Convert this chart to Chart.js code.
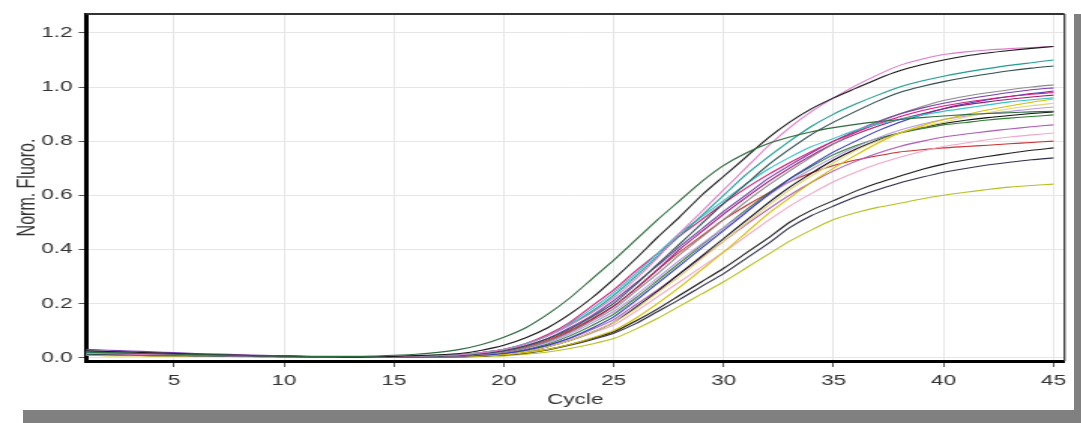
<!DOCTYPE html>
<html>
<head>
<meta charset="utf-8">
<script src="https://cdn.jsdelivr.net/npm/chart.js@4.4.1/dist/chart.umd.min.js"></script>
<style>
html,body{margin:0;padding:0;background:#fff;overflow:hidden;}
#box{position:absolute;left:0;top:0;width:1074px;height:410px;background:#fff;box-shadow:23px 14px 0 #808080;overflow:hidden;}
#c{position:absolute;left:0;top:0;transform:scaleX(1.502);transform-origin:0 0;}
</style>
</head>
<body>
<div id="box"><canvas id="c" width="715" height="410"></canvas></div>
<script>
// amplification data, normalised fluorescence per cycle
const cycles = [1,2,3,4,5,6,7,8,9,10,11,12,13,14,15,16,17,18,19,20,21,22,23,24,25,26,27,28,29,30,31,32,33,34,35,36,37,38,39,40,41,42,43,44,45];
const xTicks = [5,10,15,20,25,30,35,40,45];
const yTicks = [0,0.2,0.4,0.6,0.8,1.0,1.2];

const s01 = [0.02,0.018,0.016,0.014,0.012,0.01,0.009,0.007,0.006,0.005,0.004,0.004,0.004,0.005,0.008,0.012,0.019,
  0.03,0.048,0.075,0.11,0.16,0.22,0.29,0.36,0.435,0.51,0.58,0.65,0.71,0.755,0.79,0.815,0.835,0.85,0.862,0.872,0.88,0.887,0.893,0.898,0.902,0.905,0.908,0.91];
const s02 = [0.025,0.022,0.02,0.017,0.015,0.012,0.01,0.008,0.006,0.005,0.003,0.002,0.001,0.002,0.004,0.007,0.01,
  0.015,0.027,0.045,0.073,0.11,0.16,0.22,0.29,0.365,0.445,0.52,0.6,0.67,0.74,0.81,0.87,0.92,0.96,0.995,1.03,1.06,1.082,1.1,1.115,1.126,1.135,1.143,1.15];
const s03 = [0.015,0.014,0.012,0.011,0.01,0.009,0.008,0.006,0.005,0.004,0.003,0.002,0.001,0.001,0.003,0.005,0.007,
  0.01,0.018,0.03,0.05,0.08,0.12,0.165,0.22,0.29,0.37,0.46,0.54,0.62,0.7,0.78,0.85,0.91,0.96,1.005,1.045,1.08,1.103,1.12,1.13,1.137,1.142,1.146,1.15];
const s04 = [0.018,0.016,0.015,0.013,0.011,0.01,0.008,0.007,0.005,0.004,0.003,0.002,0.001,0.001,0.003,0.005,0.007,
  0.01,0.018,0.03,0.05,0.08,0.12,0.17,0.23,0.3,0.375,0.45,0.525,0.6,0.675,0.74,0.8,0.855,0.9,0.937,0.97,1.0,1.022,1.04,1.055,1.068,1.08,1.09,1.1];
const s05 = [0.012,0.011,0.01,0.009,0.008,0.007,0.006,0.005,0.004,0.003,0.002,0.001,0,0,0.002,0.003,0.005,
  0.008,0.015,0.025,0.043,0.07,0.105,0.15,0.2,0.27,0.345,0.42,0.495,0.57,0.64,0.71,0.77,0.825,0.87,0.91,0.948,0.98,1.002,1.02,1.035,1.048,1.06,1.07,1.078];
const s06 = [0.02,0.018,0.016,0.014,0.012,0.01,0.009,0.007,0.006,0.004,0.003,0.002,0.001,0.001,0.003,0.005,0.007,
  0.01,0.018,0.03,0.052,0.08,0.125,0.18,0.24,0.31,0.385,0.46,0.52,0.58,0.64,0.695,0.74,0.78,0.81,0.84,0.862,0.88,0.896,0.91,0.922,0.934,0.945,0.953,0.96];
const s07 = [0.022,0.02,0.018,0.016,0.014,0.012,0.01,0.008,0.006,0.005,0.003,0.002,0.001,0,0.002,0.005,0.007,
  0.01,0.018,0.03,0.052,0.085,0.13,0.19,0.25,0.32,0.385,0.45,0.51,0.57,0.625,0.675,0.72,0.762,0.8,0.833,0.863,0.89,0.912,0.93,0.944,0.955,0.965,0.973,0.98];
const s08 = [0.03,0.027,0.024,0.021,0.018,0.015,0.013,0.01,0.008,0.006,0.004,0.002,0.001,0,0.001,0.003,0.005,
  0.008,0.015,0.025,0.043,0.07,0.11,0.155,0.21,0.275,0.34,0.41,0.475,0.54,0.6,0.66,0.71,0.757,0.8,0.838,0.872,0.9,0.922,0.94,0.955,0.968,0.98,0.99,0.997];
const s09 = [0.01,0.009,0.008,0.007,0.006,0.005,0.004,0.004,0.003,0.002,0.001,0.001,0,0,0.001,0.002,0.004,
  0.006,0.012,0.02,0.036,0.06,0.093,0.135,0.18,0.245,0.31,0.38,0.445,0.51,0.575,0.635,0.69,0.742,0.79,0.832,0.868,0.9,0.927,0.95,0.966,0.979,0.99,1.0,1.008];
const s10 = [0.015,0.014,0.012,0.011,0.01,0.008,0.007,0.006,0.005,0.004,0.003,0.002,0.001,0,0.001,0.002,0.004,
  0.006,0.012,0.02,0.036,0.06,0.095,0.14,0.19,0.255,0.325,0.4,0.465,0.53,0.59,0.648,0.7,0.747,0.79,0.825,0.855,0.88,0.9,0.92,0.934,0.945,0.955,0.963,0.97];
const s11 = [0.012,0.011,0.01,0.009,0.008,0.007,0.006,0.005,0.004,0.003,0.002,0.001,0,0,0,0.001,0.002,
  0.004,0.008,0.015,0.027,0.045,0.072,0.108,0.15,0.21,0.275,0.34,0.405,0.47,0.535,0.6,0.66,0.712,0.76,0.8,0.838,0.87,0.897,0.92,0.938,0.953,0.965,0.976,0.985];
const s12 = [0.008,0.007,0.007,0.006,0.005,0.004,0.004,0.003,0.003,0.002,0.001,0.001,0,0,0,0.001,0.002,
  0.003,0.006,0.01,0.018,0.03,0.048,0.072,0.1,0.145,0.2,0.26,0.325,0.39,0.46,0.53,0.59,0.648,0.7,0.748,0.792,0.83,0.857,0.88,0.898,0.915,0.93,0.944,0.956];
const s13 = [0.01,0.009,0.008,0.007,0.006,0.005,0.004,0.004,0.003,0.002,0.001,0.001,0,0,0,0.001,0.002,
  0.004,0.007,0.012,0.022,0.04,0.063,0.093,0.13,0.18,0.24,0.3,0.365,0.43,0.495,0.56,0.62,0.672,0.72,0.765,0.8,0.83,0.852,0.87,0.888,0.905,0.92,0.931,0.94];
const s14 = [0.025,0.022,0.02,0.017,0.015,0.012,0.01,0.008,0.006,0.005,0.003,0.002,0.001,0,0.001,0.003,0.004,
  0.005,0.01,0.018,0.033,0.055,0.087,0.127,0.17,0.23,0.295,0.36,0.42,0.48,0.54,0.598,0.65,0.697,0.74,0.778,0.812,0.84,0.862,0.88,0.892,0.902,0.91,0.919,0.926];
const s15 = [0.018,0.016,0.015,0.013,0.011,0.01,0.008,0.007,0.005,0.004,0.003,0.002,0.001,0,0,0.001,0.002,
  0.004,0.007,0.012,0.022,0.04,0.063,0.093,0.13,0.185,0.245,0.31,0.375,0.44,0.505,0.57,0.63,0.682,0.73,0.77,0.803,0.83,0.85,0.865,0.877,0.887,0.895,0.902,0.908];
const s16 = [0.02,0.018,0.016,0.014,0.012,0.01,0.009,0.007,0.006,0.004,0.003,0.002,0.001,0,0.001,0.002,0.003,
  0.005,0.009,0.016,0.03,0.05,0.08,0.118,0.16,0.22,0.285,0.35,0.415,0.48,0.545,0.605,0.66,0.707,0.75,0.783,0.81,0.83,0.846,0.86,0.869,0.878,0.885,0.891,0.897];
const s17 = [0.015,0.014,0.012,0.011,0.01,0.008,0.007,0.006,0.005,0.004,0.003,0.002,0.001,0,0.001,0.002,0.003,
  0.005,0.009,0.015,0.027,0.045,0.07,0.103,0.14,0.195,0.25,0.31,0.37,0.43,0.49,0.547,0.6,0.648,0.69,0.725,0.755,0.78,0.799,0.815,0.826,0.836,0.845,0.853,0.86];
const s18 = [0.012,0.011,0.01,0.009,0.008,0.007,0.006,0.005,0.004,0.003,0.002,0.001,0,0,0,0.001,0.002,
  0.004,0.007,0.012,0.022,0.04,0.062,0.09,0.12,0.17,0.225,0.28,0.335,0.39,0.447,0.505,0.56,0.607,0.65,0.685,0.715,0.74,0.762,0.78,0.793,0.805,0.815,0.823,0.83];
const s19 = [0.015,0.014,0.012,0.011,0.01,0.008,0.007,0.006,0.005,0.004,0.003,0.002,0.001,0.001,0.002,0.004,0.006,
  0.008,0.014,0.022,0.04,0.065,0.1,0.143,0.19,0.255,0.325,0.39,0.45,0.51,0.56,0.607,0.65,0.683,0.71,0.73,0.746,0.76,0.768,0.775,0.78,0.785,0.79,0.795,0.8];
const s20 = [0.01,0.009,0.008,0.007,0.006,0.005,0.004,0.004,0.003,0.002,0.001,0.001,0,0,0,0.001,0.002,
  0.003,0.006,0.01,0.018,0.03,0.048,0.07,0.095,0.135,0.18,0.23,0.28,0.33,0.385,0.44,0.5,0.545,0.58,0.615,0.645,0.67,0.695,0.715,0.73,0.743,0.755,0.766,0.775];
const s21 = [0.012,0.011,0.01,0.009,0.008,0.007,0.006,0.005,0.004,0.003,0.002,0.001,0,0,0,0.001,0.002,
  0.003,0.005,0.009,0.016,0.028,0.045,0.066,0.09,0.125,0.17,0.215,0.263,0.31,0.365,0.42,0.48,0.525,0.56,0.593,0.62,0.645,0.666,0.685,0.699,0.712,0.722,0.731,0.738];
const s22 = [0.008,0.007,0.007,0.006,0.005,0.004,0.004,0.003,0.003,0.002,0.001,0.001,0,0,0,0,0.001,
  0.002,0.004,0.006,0.012,0.02,0.033,0.05,0.07,0.105,0.145,0.19,0.235,0.28,0.33,0.38,0.43,0.472,0.51,0.535,0.555,0.57,0.586,0.6,0.611,0.621,0.63,0.636,0.641];

const series = [s01,s02,s03,s04,s05,s06,s07,s08,s09,s10,s11,s12,s13,s14,s15,s16,s17,s18,s19,s20,s21,s22];
const lineColors = ['#2e6b3e','#1a1a1a','#e07ac8','#1f9e92','#2f4f4f','#35c2cc','#d81b7e','#7a3fb0','#8c8c8c','#9b1f6e','#3a3ac0',
  '#d4c000','#e2d47a','#b89ae0','#111111','#2f7f2f','#b05ab8','#f0a8c8','#c83232','#202020','#303050','#b8c020'];

const fontFam = '"Liberation Sans", Arial, sans-serif';

// top and right edges of the plot frame
const frame = {
  id: 'frame',
  afterDraw(chart) {
    const {ctx, chartArea: a} = chart;
    ctx.save();
    ctx.strokeStyle = '#333';
    ctx.lineWidth = 2;
    ctx.beginPath();
    ctx.moveTo(a.left, a.top);
    ctx.lineTo(a.right, a.top);
    ctx.stroke();
    ctx.lineWidth = 1.3;
    ctx.beginPath();
    ctx.moveTo(a.right, a.top);
    ctx.lineTo(a.right, a.bottom);
    ctx.stroke();
    ctx.restore();
  }
};

new Chart(document.getElementById('c'), {
  type: 'line',
  data: {
    datasets: series.map((vals, i) => ({
      data: vals.map((v, j) => ({x: cycles[j], y: v})),
      borderColor: lineColors[i],
      borderWidth: 1.1,
      pointRadius: 0,
      tension: 0.2,
      fill: false
    }))
  },
  options: {
    responsive: false,
    animation: false,
    events: [],
    layout: {padding: {left: 0, top: 14, right: 6.3, bottom: 0}},
    plugins: {legend: {display: false}, tooltip: {enabled: false}},
    scales: {
      x: {
        type: 'linear',
        min: 1,
        max: 45.5,
        afterBuildTicks: s => { s.ticks = xTicks.map(v => ({value: v})); },
        afterFit: s => { s.height = 49; },
        grid: {color: '#e6e6e6', lineWidth: 1, tickLength: 6, tickColor: '#555'},
        border: {display: true, color: '#000', width: 3},
        ticks: {color: '#333', font: {family: fontFam, size: 15}, padding: 5, maxRotation: 0, autoSkip: false,
          callback: v => String(v)},
        title: {display: true, text: 'Cycle', color: '#333', font: {family: fontFam, size: 15}, padding: {top: 0, bottom: 1}}
      },
      y: {
        min: -0.013,
        max: 1.27,
        afterBuildTicks: s => { s.ticks = yTicks.map(v => ({value: v})); },
        afterFit: s => { s.width = 57.3; },
        grid: {color: '#e6e6e6', lineWidth: 1, tickLength: 5, tickColor: '#555'},
        border: {display: true, color: '#000', width: 3},
        ticks: {color: '#333', font: {family: fontFam, size: 15}, padding: 4,
          callback: v => v.toFixed(1)},
        title: {display: true, text: 'Norm. Fluoro.', color: '#333', font: {family: fontFam, size: 16}, padding: {top: 9, bottom: 0}}
      }
    }
  },
  plugins: [frame]
});
</script>
</body>
</html>
